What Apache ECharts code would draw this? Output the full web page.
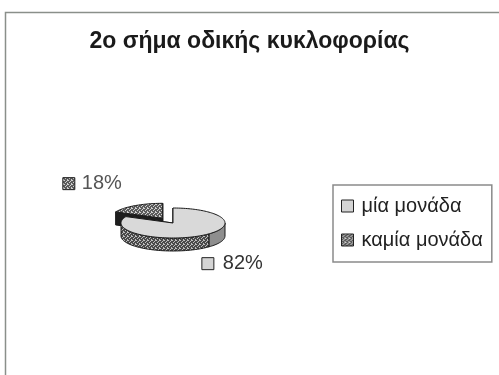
<!DOCTYPE html>
<html>
<head>
<meta charset="utf-8">
<script src="https://cdn.jsdelivr.net/npm/echarts@6/dist/echarts.min.js"></script>
<style>
  html, body { margin: 0; padding: 0; background: #fff; }
  #chart { width: 499px; height: 375px; }
</style>
</head>
<body>
<div id="chart"></div>
<script>
// Chart content
const chartTitle = '2ο σήμα οδικής κυκλοφορίας';
const categories = ['μία μονάδα', 'καμία μονάδα'];
const values = [82, 18];

// Layout of the tilted 3D pie (pixels)
const PIE = {
  cx: 173, cy: 223,      // centre of the top ellipse
  rx: 52, ry: 15,        // ellipse radii
  depth: 13,             // thickness of the disc
  start: 90,             // first slice begins at 12 o'clock, runs clockwise
  explode: [0, 0.37],    // pull-out of each slice, in radius units
  shadeSplit: -46        // angle where the side wall changes shade
};
const FONT = 'Liberation Sans';

// Small repeating textures for the hatched fills
function speckle(base, dot) {
  const c = document.createElement('canvas');
  c.width = 4; c.height = 4;
  const g = c.getContext('2d');
  g.fillStyle = base; g.fillRect(0, 0, 4, 4);
  g.fillStyle = dot;
  [[0, 0], [2, 1], [1, 2], [3, 3], [3, 0]].forEach(([x, y]) => g.fillRect(x, y, 1, 1));
  return { image: c, repeat: 'repeat' };
}
const darkSpeckle = speckle('#5c5c5c', '#d0d0d0');
const sideSpeckle = speckle('#4a4a4a', '#bdbdbd');

const STYLE = [
  { top: '#d9d9d9', side: [sideSpeckle, '#8e8e8e'], face: '#2a2a2a', legend: '#d4d4d4' },
  { top: darkSpeckle, side: [darkSpeckle, '#555'], face: '#1e1e1e', legend: darkSpeckle }
];

// Angular extent of every slice
function sliceAngles() {
  const total = values.reduce((a, b) => a + b, 0);
  let acc = 0;
  return values.map(v => {
    const hi = PIE.start - acc / total * 360;
    acc += v;
    const lo = PIE.start - acc / total * 360;
    return { lo, hi, mid: (lo + hi) / 2, pct: Math.round(v / total * 100) };
  });
}

function pt(t, ox, oy, dz) {
  const r = t * Math.PI / 180;
  return [PIE.cx + ox + PIE.rx * Math.cos(r), PIE.cy + oy - PIE.ry * Math.sin(r) + dz];
}
function arc(a, b, ox, oy, dz) {
  const n = Math.max(2, Math.ceil(Math.abs(b - a) / 2));
  const out = [];
  for (let k = 0; k <= n; k++) out.push(pt(a + (b - a) * k / n, ox, oy, dz));
  return out;
}

function renderSlice(params, api) {
  const i = params.seriesIndex;
  const s = sliceAngles()[i];
  const st = STYLE[i];
  const e = PIE.explode[i];
  const mr = s.mid * Math.PI / 180;
  const ox = e * PIE.rx * Math.cos(mr);
  const oy = -e * PIE.ry * Math.sin(mr);
  const stroke = '#1a1a1a';
  const children = [];

  // outer wall: only the front half of the rim faces the viewer
  for (let k = -2; k <= 2; k++) {
    const f0 = -180 + 360 * k, f1 = 360 * k, split = PIE.shadeSplit + 360 * k;
    const parts = [[f0, split, 0], [split, f1, 1]];
    parts.forEach(([p0, p1, shade]) => {
      const a = Math.max(s.lo, p0), b = Math.min(s.hi, p1);
      if (b - a <= 0.01) return;
      const upper = arc(a, b, ox, oy, 0);
      const lower = arc(a, b, ox, oy, PIE.depth).reverse();
      children.push({
        type: 'polygon',
        shape: { points: upper.concat(lower) },
        style: { fill: st.side[shade], stroke: stroke, lineWidth: 1 }
      });
    });
  }

  // radial cut faces
  const c0 = [PIE.cx + ox, PIE.cy + oy];
  [s.lo, s.hi].forEach(t => {
    const p = pt(t, ox, oy, 0);
    children.push({
      type: 'polygon',
      shape: { points: [c0, p, [p[0], p[1] + PIE.depth], [c0[0], c0[1] + PIE.depth]] },
      style: { fill: st.face, stroke: stroke, lineWidth: 1 }
    });
  });

  // top face
  children.push({
    type: 'polygon',
    shape: { points: [c0].concat(arc(s.lo, s.hi, ox, oy, 0)) },
    style: { fill: st.top, stroke: stroke, lineWidth: 1 }
  });

  // percentage label with a colour key
  const rim = pt(s.mid, ox, oy, 0);
  const left = Math.cos(mr) < 0;
  const text = s.pct + '%';
  const font = '20px "' + FONT + '"';
  if (left) {
    const tx = rim[0] - 13, ty = rim[1] - 22;
    children.push({
      type: 'text', z2: 10,
      style: { x: tx, y: ty, text: text, fill: '#555', font: font, align: 'right', verticalAlign: 'middle' }
    });
    children.push({
      type: 'rect', z2: 10,
      shape: { x: tx - 59, y: ty - 6, width: 12, height: 12 },
      style: { fill: st.legend, stroke: '#222', lineWidth: 1 }
    });
  } else {
    const lx = rim[0] + 1, ly = rim[1] + 28;
    children.push({
      type: 'rect', z2: 10,
      shape: { x: lx, y: ly - 6, width: 12, height: 12 },
      style: { fill: st.legend, stroke: '#222', lineWidth: 1 }
    });
    children.push({
      type: 'text', z2: 10,
      style: { x: lx + 21, y: ly, text: text, fill: '#333', font: font, align: 'left', verticalAlign: 'middle' }
    });
  }
  return { type: 'group', children };
}

const chart = echarts.init(document.getElementById('chart'), null, { renderer: 'canvas' });
chart.setOption({
  animation: false,
  backgroundColor: '#fff',
  title: {
    text: chartTitle,
    left: 'center',
    top: 25,
    textStyle: { fontFamily: FONT, fontSize: 23, fontWeight: 'bold', color: '#1a1a1a' }
  },
  graphic: [{
    type: 'rect',
    shape: { x: 5.5, y: 12.5, width: 520, height: 400 },
    style: { fill: 'none', stroke: '#8a8f8a', lineWidth: 1.5 },
    silent: true
  }],
  legend: {
    orient: 'vertical',
    left: 333,
    top: 185,
    data: categories,
    icon: 'rect',
    itemWidth: 12,
    itemHeight: 12,
    itemGap: 14,
    padding: [11, 9, 12, 8],
    borderColor: '#8a8a8a',
    borderWidth: 1.5,
    itemStyle: { borderColor: '#222', borderWidth: 1 },
    textStyle: { fontFamily: FONT, fontSize: 20, color: '#222', padding: [0, 0, 0, 3] }
  },
  series: categories.map((name, i) => ({
    type: 'custom',
    name: name,
    coordinateSystem: 'none',
    z: i === 0 ? 3 : 2,
    itemStyle: { color: STYLE[i].legend },
    renderItem: renderSlice,
    data: [values[i]]
  }))
});
</script>
</body>
</html>
